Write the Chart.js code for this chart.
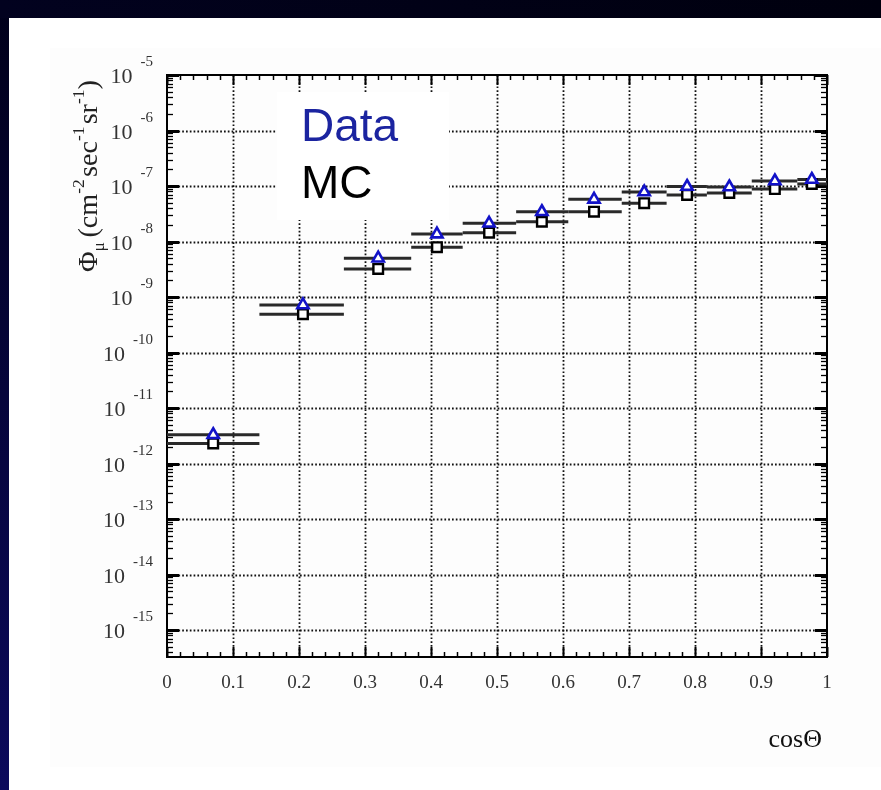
<!DOCTYPE html>
<html>
<head>
<meta charset="utf-8">
<script src="https://cdn.jsdelivr.net/npm/chart.js@4/dist/chart.umd.min.js"></script>
<style>
  html, body { margin: 0; padding: 0; background: #fff; overflow: hidden; }
  canvas { display: block; }
</style>
</head>
<body>
<canvas id="c" width="881" height="790"></canvas>
<script>
// Angular bins in cos(theta): lower / upper edges and marker positions
const binLow   = [0.00, 0.14, 0.268, 0.37, 0.448, 0.529, 0.608, 0.689, 0.757, 0.818, 0.886, 0.955];
const binHigh  = [0.14, 0.268, 0.37, 0.448, 0.529, 0.608, 0.689, 0.757, 0.818, 0.886, 0.955, 1.00];
const cosTheta = [0.07, 0.206, 0.32, 0.409, 0.488, 0.568, 0.647, 0.723, 0.788, 0.852, 0.921, 0.977];

// Muon flux (cm^-2 sec^-1 sr^-1)
const fluxData = [3.3e-12, 7.2e-10, 5.0e-9, 1.36e-8, 2.13e-8, 3.44e-8, 5.75e-8, 7.8e-8, 9.8e-8, 9.6e-8, 1.23e-7, 1.31e-7];
const fluxMC   = [2.3e-12, 4.9e-10, 3.2e-9, 7.9e-9, 1.44e-8, 2.27e-8, 3.44e-8, 4.9e-8, 6.9e-8, 7.5e-8, 8.8e-8, 1.09e-7];

// Axis ticks
const xTicks      = [0, 0.1, 0.2, 0.3, 0.4, 0.5, 0.6, 0.7, 0.8, 0.9, 1];
const xTickLabels = ['0', '0.1', '0.2', '0.3', '0.4', '0.5', '0.6', '0.7', '0.8', '0.9', '1'];
const yExponents  = [-5, -6, -7, -8, -9, -10, -11, -12, -13, -14, -15];
const yRange      = [Math.pow(10, -15.486), 1e-5];

const SERIF = '"Liberation Serif", "Times New Roman", "DejaVu Serif", serif';
const SANS  = '"Liberation Sans", Arial, sans-serif';

function line(ctx, x1, y1, x2, y2) {
  ctx.beginPath(); ctx.moveTo(x1, y1); ctx.lineTo(x2, y2); ctx.stroke();
}

// Slide background with the dark frame
const slideBackground = {
  id: 'slideBackground',
  beforeDraw(chart) {
    const ctx = chart.ctx, W = chart.width, H = chart.height;
    ctx.save();
    ctx.fillStyle = '#ffffff';
    ctx.fillRect(0, 0, W, H);
    ctx.fillStyle = '#fdfdfd';
    ctx.fillRect(50, 48, W - 50, 719);
    const gl = ctx.createLinearGradient(0, 0, 0, H);
    gl.addColorStop(0, '#00001a');
    gl.addColorStop(1, '#0c0a5c');
    ctx.fillStyle = gl;
    ctx.fillRect(0, 0, 9, H);
    const gt = ctx.createLinearGradient(0, 0, W, 0);
    gt.addColorStop(0, '#02021f');
    gt.addColorStop(1, '#00000e');
    ctx.fillStyle = gt;
    ctx.fillRect(0, 0, W, 18);
    ctx.restore();
  }
};

// Frame, ticks, dotted grid, labels, legend text and bin-width bars
const physicsAxes = {
  id: 'physicsAxes',
  beforeDatasetsDraw(chart) {
    const { ctx, chartArea: a, scales: { x, y } } = chart;
    ctx.save();

    // dotted grid
    ctx.strokeStyle = '#111';
    ctx.lineWidth = 1.8;
    ctx.setLineDash([1.7, 2.1]);
    xTicks.forEach(v => {
      if (v <= 0 || v >= 1) return;
      const px = Math.round(x.getPixelForValue(v)) + 0.5;
      line(ctx, px, a.top, px, a.bottom);
    });
    yExponents.forEach(e => {
      const py = Math.round(y.getPixelForValue(Math.pow(10, e))) + 0.5;
      if (py <= a.top + 2) return;
      line(ctx, a.left, py, a.right, py);
    });
    ctx.setLineDash([]);

    // legend text on a white patch
    ctx.fillStyle = '#ffffff';
    ctx.fillRect(277, 92, 172, 128);
    ctx.font = '46px ' + SANS;
    ctx.textAlign = 'left';
    ctx.textBaseline = 'alphabetic';
    ctx.fillStyle = '#1b24a0';
    ctx.fillText('Data', 301, 141);
    ctx.fillStyle = '#000000';
    ctx.fillText('MC', 301, 198);

    // x ticks: major every 0.1, minor every 0.02 (bottom and top)
    ctx.strokeStyle = '#000';
    for (let i = 0; i <= 50; i++) {
      const px = Math.round(x.getPixelForValue(i / 50)) + 0.5;
      const major = i % 5 === 0;
      const len = major ? 10 : 5;
      ctx.lineWidth = major ? 2 : 1.5;
      line(ctx, px, a.bottom, px, a.bottom - len);
      line(ctx, px, a.top, px, a.top + len);
    }

    // y ticks: decades and log minors (left and right)
    for (let e = -16; e <= -5; e++) {
      for (let m = 1; m <= 9; m++) {
        const v = m * Math.pow(10, e);
        if (v < yRange[0] || v > yRange[1] * 1.0001) continue;
        const py = Math.round(y.getPixelForValue(v)) + 0.5;
        const major = m === 1;
        const len = major ? 12 : 6;
        ctx.lineWidth = major ? 3 : 1.3;
        line(ctx, a.left, py, a.left + len, py);
        line(ctx, a.right, py, a.right - len, py);
      }
    }

    // frame
    ctx.lineWidth = 2;
    ctx.strokeRect(a.left, a.top, a.right - a.left, a.bottom - a.top);

    // x tick labels
    ctx.fillStyle = '#333';
    ctx.font = '19px ' + SERIF;
    ctx.textAlign = 'center';
    xTicks.forEach((v, i) => {
      ctx.fillText(xTickLabels[i], x.getPixelForValue(v), a.bottom + 31);
    });

    // y tick labels 10^n
    yExponents.forEach(e => {
      const py = y.getPixelForValue(Math.pow(10, e));
      const expText = String(e);
      ctx.font = '15px ' + SERIF;
      const ew = ctx.measureText(expText).width;
      const expLeft = 153 - ew;
      ctx.textAlign = 'left';
      ctx.fillText(expText, expLeft, py - 9);
      ctx.font = '22px ' + SERIF;
      ctx.textAlign = 'right';
      ctx.fillText('10', expLeft - 8, py + 8);
    });

    // x title
    ctx.font = '26px ' + SERIF;
    ctx.textAlign = 'right';
    ctx.fillStyle = '#111';
    ctx.fillText('cos\u0398', 822, 747);

    // y title, rotated
    const parts = [
      { t: '\u03A6', s: 1.0, dy: 0 },
      { t: '\u03BC', s: 0.62, dy: 7 },
      { t: '(cm', s: 1.0, dy: 0, pre: 4 },
      { t: '-2', s: 0.62, dy: -13 },
      { t: 'sec', s: 1.0, dy: 0, pre: 2 },
      { t: '-1', s: 0.62, dy: -13 },
      { t: 'sr', s: 1.0, dy: 0, pre: 2 },
      { t: '-1', s: 0.62, dy: -13 },
      { t: ')', s: 1.0, dy: 0 }
    ];
    const base = 25;
    let total = 0;
    parts.forEach(p => {
      ctx.font = (base * p.s) + 'px ' + SERIF;
      total += ctx.measureText(p.t).width + (p.pre || 0);
    });
    const scale = 192 / total;
    ctx.translate(97, 272);
    ctx.rotate(-Math.PI / 2);
    ctx.textAlign = 'left';
    ctx.fillStyle = '#222';
    let cx = 0;
    parts.forEach(p => {
      ctx.font = (base * p.s * scale) + 'px ' + SERIF;
      cx += (p.pre || 0) * scale;
      ctx.fillText(p.t, cx, p.dy);
      cx += ctx.measureText(p.t).width;
    });
    ctx.setTransform(1, 0, 0, 1, 0, 0);

    // horizontal bars showing each bin's width
    ctx.strokeStyle = '#2a2a2a';
    ctx.lineWidth = 3;
    [fluxData, fluxMC].forEach(series => {
      series.forEach((v, i) => {
        const py = y.getPixelForValue(v);
        line(ctx, x.getPixelForValue(binLow[i]), py, x.getPixelForValue(binHigh[i]), py);
      });
    });

    ctx.restore();
  }
};

new Chart(document.getElementById('c'), {
  type: 'scatter',
  data: {
    datasets: [
      {
        label: 'Data',
        data: cosTheta.map((c, i) => ({ x: c, y: fluxData[i] })),
        pointStyle: 'triangle',
        pointRadius: 6.5,
        borderColor: '#1212c8',
        backgroundColor: '#ffffff',
        borderWidth: 2.6,
        showLine: false
      },
      {
        label: 'MC',
        data: cosTheta.map((c, i) => ({ x: c, y: fluxMC[i] })),
        pointStyle: 'rect',
        pointRadius: 6.8,
        borderColor: '#000000',
        backgroundColor: '#ffffff',
        borderWidth: 2.4,
        showLine: false
      }
    ]
  },
  options: {
    responsive: false,
    animation: false,
    devicePixelRatio: 1,
    layout: { padding: { left: 167, top: 75, right: 54, bottom: 133 } },
    plugins: { legend: { display: false }, tooltip: { enabled: false } },
    scales: {
      x: { type: 'linear', min: 0, max: 1, display: false },
      y: { type: 'logarithmic', min: yRange[0], max: yRange[1], display: false }
    }
  },
  plugins: [slideBackground, physicsAxes]
});
</script>
</body>
</html>
